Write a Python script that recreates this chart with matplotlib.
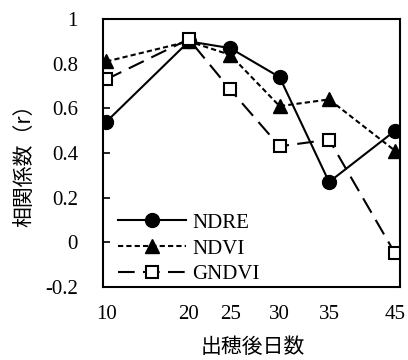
import matplotlib
matplotlib.use("Agg")
import matplotlib.pyplot as plt

# ---- data ----
# x positions as plotted (days after heading), with the printed tick labels
days = [10, 20, 25, 31, 37, 45]
day_labels = ["10", "20", "25", "30", "35", "45"]

ndre = [0.54, 0.90, 0.87, 0.74, 0.27, 0.50]
ndvi = [0.81, 0.90, 0.84, 0.61, 0.64, 0.41]
gndvi = [0.73, 0.91, 0.685, 0.43, 0.46, -0.05]

y_ticks = [1, 0.8, 0.6, 0.4, 0.2, 0, -0.2]
y_tick_labels = ["1", "0.8", "0.6", "0.4", "0.2", "0", "-0.2"]

serif = ["Liberation Serif", "DejaVu Serif"]
gothic = ["Noto Sans CJK JP", "DejaVu Sans"]

fig = plt.figure(figsize=(4.08, 3.6), dpi=100)
ax = fig.add_axes([0.2525, 0.203, 0.728, 0.744])

ax.plot(days, ndre, color="black", lw=1.5, ls="-", marker="o", ms=10,
        mfc="black", mec="black", label="NDRE")
ax.plot(days, ndvi, color="black", lw=1.5, ls=(0, (2.5, 1.5)), marker="^", ms=10,
        mfc="black", mec="black", label="NDVI")
ax.plot(days, gndvi, color="black", lw=1.5, ls=(0, (8, 4)), marker="s", ms=9,
        mfc="white", mec="black", mew=1.5, label="GNDVI")

ax.set_xlim(9.6, 45.6)
ax.set_ylim(-0.2, 1.0)

ax.set_xticks(days)
ax.set_xticklabels(day_labels, family=serif, fontsize=15)
ax.set_yticks(y_ticks)
ax.set_yticklabels(y_tick_labels, family=serif, fontsize=15)

ax.tick_params(axis="x", length=0, pad=13)
ax.tick_params(axis="y", direction="in", length=5, width=1.2, pad=18)

for s in ax.spines.values():
    s.set_linewidth(1.5)
    s.set_color("black")

ax.set_xlabel("出穂後日数", family=gothic, fontsize=15)
ax.set_ylabel("相関係数（r）", family=gothic, fontsize=15)
ax.xaxis.set_label_coords(0.505, -0.185)
ax.yaxis.set_label_coords(-0.228, 0.474)

leg = ax.legend(loc="lower left", bbox_to_anchor=(0.0, -0.045), frameon=False,
                handlelength=3.3, handletextpad=0.3, labelspacing=0.3,
                borderaxespad=0.3, numpoints=1,
                prop={"family": serif, "size": 15})

fig.savefig("out.png", dpi=100)
